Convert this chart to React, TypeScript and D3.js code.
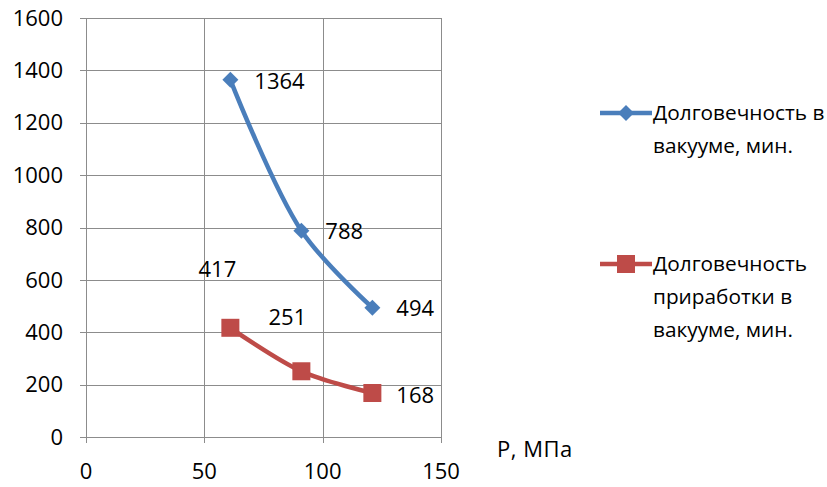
import React from "react";
import * as d3 from "d3";

// Pressure, MPa
const pressure = [61, 91, 121];
// Durability in vacuum, min
const durability = [1364, 788, 494];
// Running-in durability in vacuum, min
const runIn = [417, 251, 168];

const yTicks = [0, 200, 400, 600, 800, 1000, 1200, 1400, 1600];
const xTicks = [0, 50, 100, 150];

const seriesNames = [
  ["Долговечность в", "вакууме, мин."],
  ["Долговечность", "приработки в", "вакууме, мин."],
];

const W = 827;
const H = 487;
const FONT = "'Open Sans', 'Liberation Sans', Arial, sans-serif";
const FS = 22;
const LEGEND_FS = 20.8;
const BLUE = "#4a7ebb";
const RED = "#be4b48";
const GRID = "#8c8c8c";

export default function App() {
  const x = d3.scaleLinear().domain([0, 150]).range([86, 441]);
  const y = d3.scaleLinear().domain([0, 1600]).range([437, 18]);

  const line = d3
    .line<number>()
    .x((_, i) => x(pressure[i]))
    .y((d) => y(d))
    .curve(d3.curveCatmullRom.alpha(0.5));

  const diamond = (cx: number, cy: number, r: number) =>
    `M${cx},${cy - r}L${cx + r},${cy}L${cx},${cy + r}L${cx - r},${cy}Z`;

  // label offsets per point (dx, dy relative to the marker)
  const blueLabelOff = [
    [24, 1],
    [24, 1],
    [24, 1],
  ];
  const redLabelOff = [
    [-13, -58],
    [-14, -54],
    [24, 2],
  ];

  return (
    <svg
      width={W}
      height={H}
      style={{ position: "absolute", left: 0, top: 0, background: "#fff" }}
      fontFamily={FONT}
    >
      {/* horizontal gridlines */}
      {yTicks.map((t) => (
        <line
          key={"h" + t}
          x1={80}
          x2={441}
          y1={Math.round(y(t)) + 0.5}
          y2={Math.round(y(t)) + 0.5}
          stroke={GRID}
          strokeWidth={1}
        />
      ))}
      {/* vertical gridlines */}
      {xTicks.map((t) => (
        <line
          key={"v" + t}
          x1={Math.round(x(t)) + 0.5}
          x2={Math.round(x(t)) + 0.5}
          y1={18}
          y2={443}
          stroke={GRID}
          strokeWidth={1}
        />
      ))}
      {/* y tick labels */}
      {yTicks.map((t) => (
        <text
          key={"yl" + t}
          x={63}
          y={y(t)}
          dy="0.35em"
          textAnchor="end"
          fontSize={FS}
          fill="#000"
        >
          {t}
        </text>
      ))}
      {/* x tick labels */}
      {xTicks.map((t) => (
        <text
          key={"xl" + t}
          x={x(t)}
          y={471}
          dy="0.35em"
          textAnchor="middle"
          fontSize={FS}
          fill="#000"
        >
          {t}
        </text>
      ))}
      <text x={497} y={449} dy="0.35em" fontSize={FS} letterSpacing={0.5} fill="#000">
        P, МПа
      </text>

      {/* series lines */}
      <path d={line(durability) ?? ""} fill="none" stroke={BLUE} strokeWidth={4.5} />
      <path d={line(runIn) ?? ""} fill="none" stroke={RED} strokeWidth={4.5} />

      {/* markers */}
      {durability.map((v, i) => (
        <path key={"bm" + i} d={diamond(x(pressure[i]), y(v), 8)} fill={BLUE} />
      ))}
      {runIn.map((v, i) => (
        <rect
          key={"rm" + i}
          x={x(pressure[i]) - 9}
          y={y(v) - 9}
          width={18}
          height={18}
          fill={RED}
        />
      ))}

      {/* data labels */}
      {durability.map((v, i) => (
        <text
          key={"bl" + i}
          x={x(pressure[i]) + blueLabelOff[i][0]}
          y={y(v) + blueLabelOff[i][1]}
          dy="0.35em"
          fontSize={FS}
          fill="#000"
        >
          {v}
        </text>
      ))}
      {runIn.map((v, i) => (
        <text
          key={"rl" + i}
          x={x(pressure[i]) + redLabelOff[i][0]}
          y={y(v) + redLabelOff[i][1]}
          dy="0.35em"
          textAnchor={i < 2 ? "middle" : "start"}
          fontSize={FS}
          fill="#000"
        >
          {v}
        </text>
      ))}

      {/* legend */}
      {seriesNames.map((lines, si) => {
        const ly = si === 0 ? 113 : 264;
        const color = si === 0 ? BLUE : RED;
        return (
          <g key={"lg" + si}>
            <line x1={600} x2={652} y1={ly} y2={ly} stroke={color} strokeWidth={4.5} />
            {si === 0 ? (
              <path d={diamond(626, ly, 8)} fill={color} />
            ) : (
              <rect x={617} y={ly - 9} width={18} height={18} fill={color} />
            )}
            {lines.map((s, li) => (
              <text
                key={li}
                x={653}
                y={ly + li * 33}
                dy="0.35em"
                fontSize={LEGEND_FS}
                fill="#000"
              >
                {s}
              </text>
            ))}
          </g>
        );
      })}
    </svg>
  );
}
